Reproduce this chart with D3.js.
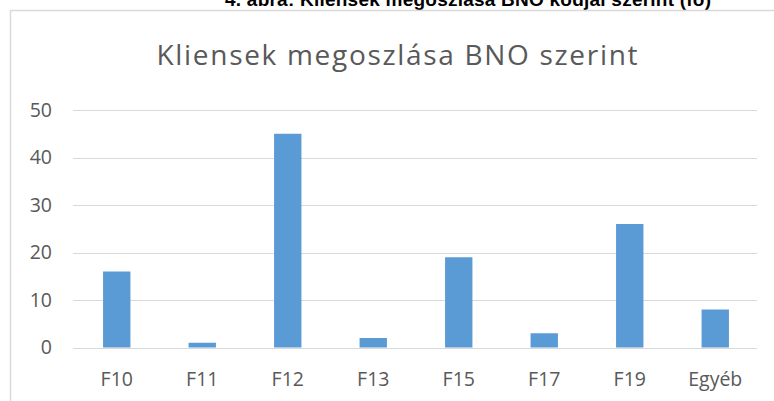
<!DOCTYPE html>
<html>
<head>
<meta charset="utf-8">
<script src="https://cdn.jsdelivr.net/npm/d3@7"></script>
<style>
  body { margin: 0; background: #fff; }
  svg { display: block; }
</style>
</head>
<body>
<div id="chart"></div>
<script>
// Data //
const categories = ['F10', 'F11', 'F12', 'F13', 'F15', 'F17', 'F19', 'Egyéb']
const values = [16, 1, 45, 2, 19, 3, 26, 8]
const yTicks = [0, 10, 20, 30, 40, 50]
const caption = '4. ábra: Kliensek megoszlása BNO kódjai szerint (fő)'
const title = 'Kliensek megoszlása BNO szerint'

const width = 774
const height = 401
const fontFamily = "'Open Sans', 'Noto Sans', sans-serif"

const svg = d3.select('#chart').append('svg')
    .attr('width', width)
    .attr('height', height)

// Caption (cut off at the top, as in the scan) //
svg.append('text')
    .attr('x', 225)
    .attr('y', 6)
    .attr('textLength', 486)
    .attr('font-family', "'Liberation Sans', Arial, sans-serif")
    .attr('font-weight', 'bold')
    .attr('font-size', 19)
    .attr('fill', '#000')
    .text(caption)

// Frame //
svg.append('rect')
    .attr('x', 10.5)
    .attr('y', 10.5)
    .attr('width', width + 20)
    .attr('height', height + 20)
    .attr('fill', '#fff')
    .attr('stroke', '#d9d9d9')
    .attr('stroke-width', 1.5)

// Title //
svg.append('text')
    .attr('x', 397)
    .attr('y', 65)
    .attr('text-anchor', 'middle')
    .attr('textLength', 481)
    .attr('font-family', fontFamily)
    .attr('font-size', 28)
    .attr('fill', '#595959')
    .text(title)

// Scales //
const x = d3.scaleBand()
    .domain(categories)
    .range([74, 758])
    .paddingInner(0.68)
    .paddingOuter(0.34)

const y = d3.scaleLinear()
    .domain([0, 50])
    .range([347.5, 110])

// Grid //
svg.append('g')
    .selectAll('line')
    .data(yTicks)
    .enter()
    .append('line')
        .attr('x1', 73)
        .attr('x2', 757)
        .attr('y1', d => Math.round(y(d)) + 0.5)
        .attr('y2', d => Math.round(y(d)) + 0.5)
        .attr('stroke', '#d9d9d9')
        .attr('stroke-width', 1.2)

// Y axis labels //
const yAxis = svg.append('g')
    .attr('transform', 'translate(52,0)')
    .call(d3.axisLeft(y).tickValues(yTicks).tickSize(0).tickPadding(0))
yAxis.select('.domain').remove()
yAxis.selectAll('text')
    .attr('font-family', fontFamily)
    .attr('font-size', 19.5)
    .attr('fill', '#595959')

// Bars //
svg.append('g')
    .selectAll('rect')
    .data(values)
    .enter()
    .append('rect')
        .attr('x', (d, i) => x(categories[i]))
        .attr('y', d => y(d))
        .attr('width', x.bandwidth())
        .attr('height', d => y(0) - y(d))
        .attr('fill', '#5b9bd5')

// X axis labels //
const xAxis = svg.append('g')
    .attr('transform', 'translate(0,372.5)')
    .call(d3.axisBottom(x).tickSize(0).tickPadding(0))
xAxis.select('.domain').remove()
xAxis.selectAll('text')
    .attr('font-family', fontFamily)
    .attr('font-size', 19.5)
    .attr('fill', '#595959')
</script>
</body>
</html>
